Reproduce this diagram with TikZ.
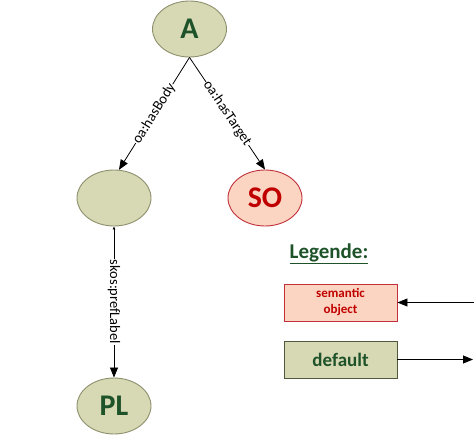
\documentclass[tikz,border=0pt]{standalone}
\usepackage{fontspec}
\setmainfont{Carlito}
\usetikzlibrary{arrows.meta,shapes.geometric}

\definecolor{olivefill}{HTML}{D7D8B4}
\definecolor{oliveline}{HTML}{8E8F6C}
\definecolor{darkgreentext}{HTML}{1E5229}
\definecolor{peachfill}{HTML}{FBD5C1}
\definecolor{redline}{HTML}{C0303A}
\definecolor{redtext}{HTML}{C00000}
\definecolor{boxline}{HTML}{4E5A3A}

\tikzset{
  resource/.style={ellipse, draw=oliveline, fill=olivefill, line width=0.9pt,
    minimum width=74pt, minimum height=56pt, inner sep=0pt,
    text=darkgreentext, font=\bfseries\fontsize{30}{32}\selectfont},
  semobj/.style={resource, draw=redline, fill=peachfill, text=redtext},
  rel/.style={draw=black, line width=0.8pt,
    -{Triangle[length=10pt,width=8pt]}},
  rellabel/.style={sloped, fill=white, inner sep=0.5pt,
    font=\fontsize{14.5}{15}\selectfont},
  legendbox/.style={rectangle, line width=0.9pt, minimum width=113pt,
    minimum height=37pt, inner sep=0pt, align=center}
}

\begin{document}
\begin{tikzpicture}[x=1pt, y=-1pt]
  \useasboundingbox (0,0) rectangle (474,436);

  % graph nodes
  \node[resource] (A) at (189.5,29) {A};
  \node[resource] (body) at (114,198) {};
  \node[semobj] (SO) at (265,198) {SO};
  \node[resource] (PL) at (114,406) {PL};

  % relations
  \draw[rel] (A.south) -- node[rellabel] {oa:hasBody} (body.80);
  \draw[rel] (A.south) -- node[rellabel] {oa:hasTarget} (SO.north);
  \draw[line width=0.8pt, {Triangle[length=3pt,width=2.5pt]}-{Triangle[length=10pt,width=8pt]}]
    (body.south) -- node[rellabel] {skos:prefLabel} (PL.north);

  % legend
  \node[text=darkgreentext, font=\bfseries\fontsize{21}{22}\selectfont]
    (legtitle) at (329,254) {\underline{Legende:}};
  \node[legendbox, draw=redline, fill=peachfill, text=redtext,
    font=\bfseries\fontsize{13}{16}\selectfont]
    (legso) at (340.5,302.5) {semantic\\object};
  \node[legendbox, draw=boxline, fill=olivefill, text=darkgreentext,
    font=\bfseries\fontsize{19}{20}\selectfont]
    (legdef) at (340.5,359.5) {default};
  \coordinate (inend) at (474,302.5);
  \coordinate (outend) at (473,359.5);
  \draw[rel] (inend) -- (legso.east);
  \draw[rel] (legdef.east) -- (outend);
\end{tikzpicture}
\end{document}
